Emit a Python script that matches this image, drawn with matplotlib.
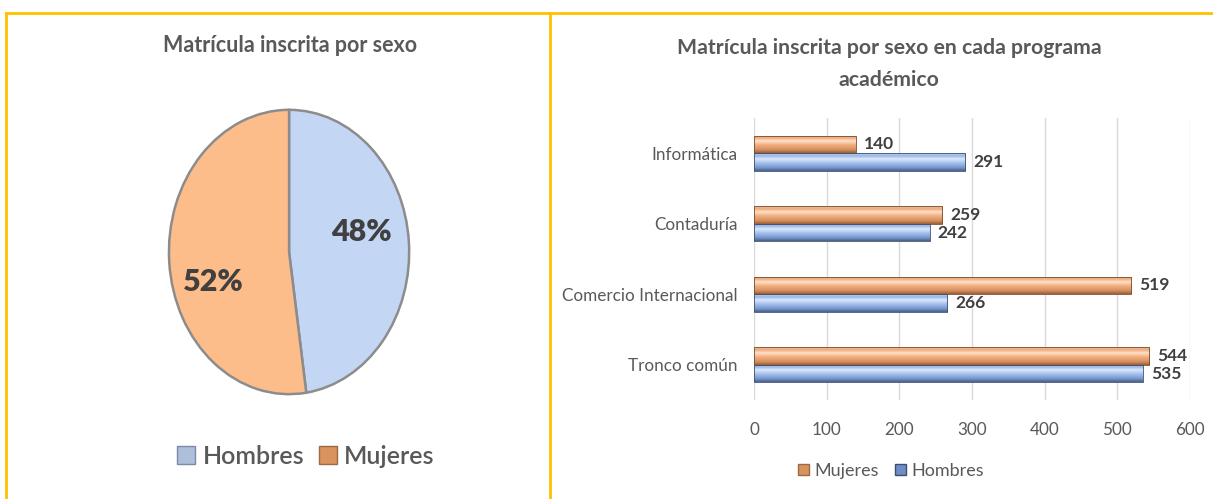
import matplotlib.pyplot as plt
import numpy as np
from matplotlib.lines import Line2D
from matplotlib.patches import Patch
from matplotlib.colors import LinearSegmentedColormap

plt.rcParams['font.family'] = ['Lato', 'DejaVu Sans']

programas = ['Tronco común', 'Comercio Internacional', 'Contaduría', 'Informática']
hombres = [535, 266, 242, 291]
mujeres = [544, 519, 259, 140]
sexos = ['Hombres', 'Mujeres']
totales = [sum(hombres), sum(mujeres)]
xticks = [0, 100, 200, 300, 400, 500, 600]

gris = '#595959'
oscuro = '#404040'
dorado = '#ffc000'

fig = plt.figure(figsize=(12.13, 4.99), dpi=100)

# marcos dorados
for xs, ys in [([6/1213, 1], [1-13/499, 1-13/499]),
               ([6/1213, 6/1213], [0, 1-13/499]),
               ([550/1213, 550/1213], [0, 1-13/499])]:
    fig.add_artist(Line2D(xs, ys, color=dorado, lw=2, transform=fig.transFigure))

# ---- pastel ----
ax1 = fig.add_axes([0.1373, 0.2044, 0.2020, 0.5812])
wedges, _ = ax1.pie(totales, colors=['#c3d6f4', '#fdbd8b'], startangle=90, counterclock=False,
                    wedgeprops=dict(edgecolor='#8c8c8c', linewidth=1.8))
ax1.set_aspect('auto')
ax1.set_xlim(-1.02, 1.02)
ax1.set_ylim(-1.02, 1.02)
pct = [round(100 * t / sum(totales)) for t in totales]
ax1.text(0.60, 0.14, f'{pct[0]}%', ha='center', va='center', fontsize=22, fontweight='heavy', color=oscuro)
ax1.text(-0.63, -0.21, f'{pct[1]}%', ha='center', va='center', fontsize=22, fontweight='heavy', color=oscuro)
fig.text(290/1213, 1-46/499, 'Matrícula inscrita por sexo', ha='center', va='center',
         fontsize=15.5, fontweight='bold', color=gris)
fig.legend(handles=[Patch(facecolor='#aebfdc', edgecolor='#7a8aa8'),
                    Patch(facecolor='#d9935c', edgecolor='#9c6a44')],
           labels=sexos, loc='center', bbox_to_anchor=(306/1213, 1-456/499), ncol=2, frameon=False,
           prop=dict(size=18, weight='semibold'), labelcolor=gris, handlelength=0.7, handleheight=0.7,
           handletextpad=0.3, columnspacing=0.6)

# ---- barras ----
ax2 = fig.add_axes([0.6216, 0.1984, 0.3594, 0.5651])
cmap_m = LinearSegmentedColormap.from_list('m', [(0, '#9a5f3c'), (0.18, '#d58f5d'), (0.45, '#f2ae7e'),
                                                 (0.68, '#fde1ca'), (0.85, '#f1a978'), (1, '#e7c0a2')])
cmap_h = LinearSegmentedColormap.from_list('h', [(0, '#48618c'), (0.18, '#7796cc'), (0.45, '#a6c1ee'),
                                                 (0.68, '#dbe8fc'), (0.85, '#9ab6e6'), (1, '#c2d1ea')])
y = np.arange(len(programas))
h = 0.25
grad = np.linspace(0, 1, 64).reshape(-1, 1)
for vals, off, cmap, edge in [(mujeres, h/2, cmap_m, '#7a4a2c'), (hombres, -h/2, cmap_h, '#3c4f72')]:
    bars = ax2.barh(y + off, vals, height=h, color='none', edgecolor=edge, linewidth=0.6, zorder=3)
    for b, v in zip(bars, vals):
        x0, y0 = b.get_x(), b.get_y()
        im = ax2.imshow(grad, cmap=cmap, origin='lower', aspect='auto', zorder=2,
                        extent=[x0, x0 + b.get_width(), y0, y0 + b.get_height()])
        im.set_clip_path(b)
        ax2.text(v + 11, y0 + b.get_height()/2, str(v), ha='left', va='center',
                 fontsize=12.5, fontweight='bold', color=oscuro)
ax2.set_xlim(0, 600)
ax2.set_ylim(-0.5, 3.5)
ax2.set_xticks(xticks)
ax2.set_yticks(y)
ax2.set_yticklabels(programas)
ax2.grid(axis='x', color='#d9d9d9', lw=1, zorder=0)
ax2.set_axisbelow(True)
for s in ax2.spines.values():
    s.set_visible(False)
ax2.tick_params(length=0, labelsize=12.3, labelcolor=gris)
ax2.tick_params(axis='x', pad=16)
ax2.tick_params(axis='y', pad=12)
fig.text(889/1213, 1-48/499, 'Matrícula inscrita por sexo en cada programa', ha='center', va='center',
         fontsize=15.3, fontweight='bold', color=gris)
fig.text(889/1213, 1-80/499, 'académico', ha='center', va='center',
         fontsize=15.3, fontweight='bold', color=gris)
fig.legend(handles=[Patch(facecolor='#d9935c', edgecolor='#9c6a44'),
                    Patch(facecolor='#6f8dc2', edgecolor='#3c4f72')],
           labels=['Mujeres', 'Hombres'], loc='center', bbox_to_anchor=(891/1213, 1-471/499), ncol=2,
           frameon=False, fontsize=13, labelcolor=gris, handlelength=0.6, handleheight=0.6,
           handletextpad=0.3, columnspacing=0.9)

fig.savefig('out.png', dpi=100)
